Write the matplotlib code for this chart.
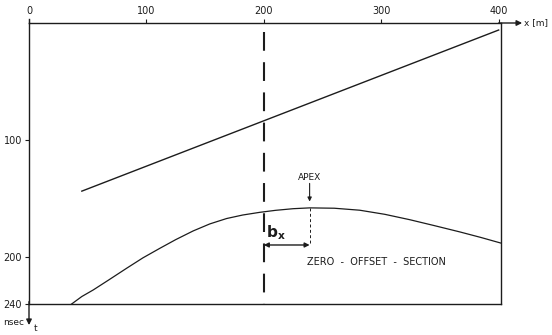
# Sección de offset cero: reflector plano y curva de difracción con su ápice.
import matplotlib
matplotlib.use("Agg")
import matplotlib.pyplot as plt

# --- DATOS ---
# Marcas de los ejes (x en metros, t en nanosegundos)
TICKS_X = [0, 100, 200, 300, 400]
TICKS_T = [100, 200, 240]

# Reflector recto (extremos)
REFLECTOR_X = [45, 400]
REFLECTOR_T = [143.6, 6]

# Curva de difracción (puntos leídos a lo largo de la curva)
CURVA_X = [36.3, 45, 54.7, 68, 83.1, 97, 111.5, 125, 139.8, 154, 168.3, 182,
           196.6, 210, 225, 239.1, 260, 281.7, 303, 324.3, 345, 366.8, 385, 402]
CURVA_T = [240, 233.6, 228, 219.4, 209.5, 200.6, 192.4, 185, 177.6, 171.6,
           167, 164, 161.7, 160, 158.6, 157.9, 158.2, 159.9, 163.4, 168,
           173, 178.4, 183.2, 188]

# Posición del ápice y de la sección vertical discontinua
X_SECCION = 200
X_APEX = 239
T_APEX = 157.9
T_BX = 189.6

COLOR = "#1c1c1c"


def dibujar_seccion():
    # Figura de 552x335 píxeles
    fig = plt.figure(figsize=(5.52, 3.35), dpi=100)
    ax = fig.add_axes([29 / 552, 31 / 335, 472 / 552, 281 / 335])
    ax.set_xlim(0, 402)
    ax.set_ylim(240, 0)

    # Marco y ejes
    for spine in ax.spines.values():
        spine.set_color(COLOR)
        spine.set_linewidth(1.0)

    ax.xaxis.tick_top()
    ax.set_xticks(TICKS_X)
    ax.set_xticklabels([str(v) for v in TICKS_X])
    ax.set_yticks(TICKS_T)
    ax.set_yticklabels([str(v) for v in TICKS_T])
    ax.tick_params(axis="both", direction="out", length=3, width=0.8,
                   color=COLOR, labelcolor=COLOR, labelsize=7, pad=2)
    ax.tick_params(axis="y", right=False)
    ax.tick_params(axis="x", bottom=False)

    # Prolongación de los ejes con flechas
    ax.annotate("", xy=(420, 0), xytext=(400, 0), annotation_clip=False,
                arrowprops=dict(arrowstyle="-|>", color=COLOR, lw=1.0,
                                mutation_scale=8, shrinkA=0, shrinkB=0))
    ax.annotate("", xy=(0, 258), xytext=(0, 238), annotation_clip=False,
                arrowprops=dict(arrowstyle="-|>", color=COLOR, lw=1.0,
                                mutation_scale=8, shrinkA=0, shrinkB=0))
    ax.plot([0, 0], [-3, 0], color=COLOR, lw=1.0, clip_on=False)
    ax.text(422, 0, "x [m]", fontsize=6.5, color=COLOR, va="center",
            ha="left", clip_on=False)
    ax.text(-4, 255.5, "nsec", fontsize=6.5, color=COLOR, va="center",
            ha="right", clip_on=False)
    ax.text(4, 261, "t", fontsize=6.5, color=COLOR, va="center",
            ha="left", clip_on=False)

    # Reflector y curva de difracción
    ax.plot(REFLECTOR_X, REFLECTOR_T, color=COLOR, lw=1.0)
    ax.plot(CURVA_X, CURVA_T, color=COLOR, lw=0.9, clip_on=False,
            solid_joinstyle="round")

    # Sección vertical discontinua en x = 200 m
    ax.plot([X_SECCION, X_SECCION], [8, 240], color=COLOR, lw=1.5,
            dashes=(9, 5.5))

    # Línea punteada bajo el ápice
    ax.plot([X_APEX, X_APEX], [T_APEX, T_BX], color=COLOR, lw=0.7,
            dashes=(3, 2.5))

    # Flecha doble b_x
    ax.annotate("", xy=(X_APEX, T_BX), xytext=(X_SECCION, T_BX),
                arrowprops=dict(arrowstyle="<|-|>", color=COLOR, lw=1.0,
                                mutation_scale=7, shrinkA=0, shrinkB=0))
    ax.text(201.5, 179, r"$\mathbf{b_x}$", fontsize=11, color=COLOR,
            va="center", ha="left")

    # Etiqueta del ápice
    ax.text(X_APEX, 132, "APEX", fontsize=6.5, color=COLOR, ha="center",
            va="center")
    ax.annotate("", xy=(X_APEX, 152.5), xytext=(X_APEX, 137),
                arrowprops=dict(arrowstyle="-|>", color=COLOR, lw=0.8,
                                mutation_scale=6, shrinkA=0, shrinkB=0))

    ax.text(237, 204, "ZERO  -  OFFSET  -  SECTION", fontsize=7,
            color=COLOR, ha="left", va="center")

    fig.savefig("out.png", dpi=100, facecolor="white")


def main():
    dibujar_seccion()


if __name__ == "__main__":
    main()
